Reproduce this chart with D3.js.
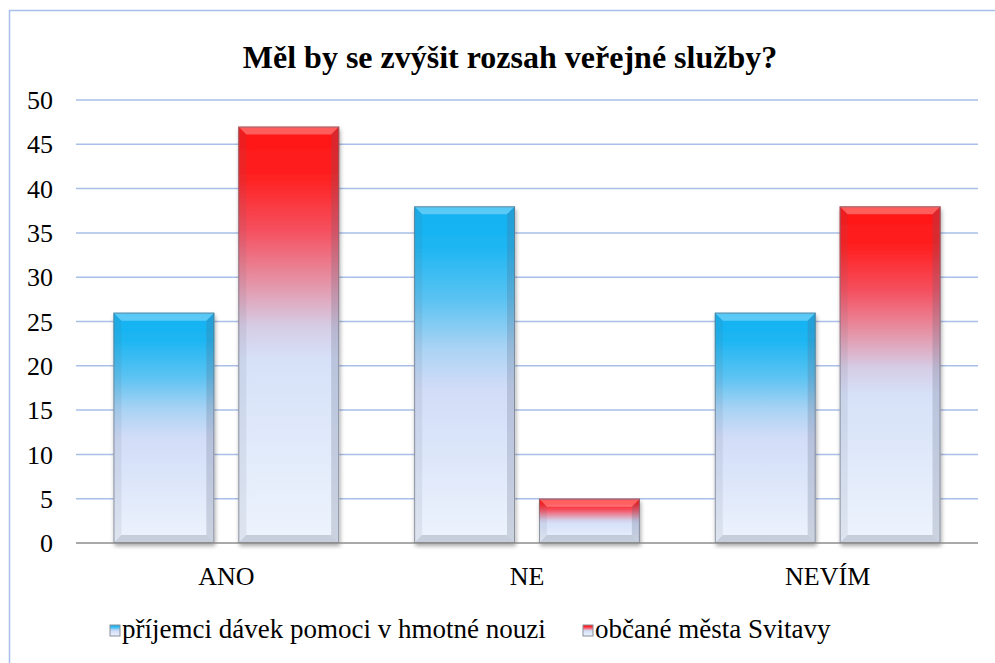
<!DOCTYPE html>
<html>
<head>
<meta charset="utf-8">
<script src="https://cdn.jsdelivr.net/npm/d3@7"></script>
</head>
<body style="margin:0; background:#fff">
<svg id="chart" width="995" height="663"></svg>
<script>
var categories = ["ANO", "NE", "NEVÍM"];
var seriesNames = ["příjemci dávek pomoci v hmotné nouzi", "občané města Svitavy"];
var prijemci = [26, 38, 26];
var obcane = [47, 5, 38];
var yTicks = [0, 5, 10, 15, 20, 25, 30, 35, 40, 45, 50];
var titleText = "Měl by se zvýšit rozsah veřejné služby?";

var FONT = "'Liberation Serif'";
var svg = d3.select("#chart");
var margin = {top: 100, left: 76, right: 17, bottom: 120};
var width = 995 - margin.left - margin.right;
var height = 543 - margin.top;
var gradStops = [
    [["0", "#10b2f2"], ["0.12", "#1db6f2"], ["0.28", "#5cc3f2"], ["0.42", "#a9d3f4"], ["0.54", "#d1dcf7"], ["1", "#edf4fd"]],
    [["0", "#ff1414"], ["0.12", "#ff2020"], ["0.25", "#f5505f"], ["0.38", "#e596aa"], ["0.48", "#d5cde6"], ["0.56", "#d6e1f8"], ["1", "#edf4fd"]]
];

// gradients
var defs = svg.append("defs");
gradStops.forEach(function(st, i) {
    var gr = defs.append("linearGradient").attr("id", "grad" + i)
        .attr("x1", 0).attr("y1", 0).attr("x2", 0).attr("y2", 1);
    st.forEach(function(s) {
        gr.append("stop").attr("offset", s[0]).attr("stop-color", s[1]);
    });
});
var sh = defs.append("filter").attr("id", "shadow")
    .attr("x", "-10%").attr("y", "-10%").attr("width", "130%").attr("height", "130%");
sh.append("feDropShadow").attr("dx", 1).attr("dy", 3).attr("stdDeviation", 2)
    .attr("flood-color", "#000").attr("flood-opacity", 0.35);

// outer frame
svg.append("path")
    .attr("d", "M9.5,663 L9.5,10.5 L995,10.5")
    .attr("fill", "none").attr("stroke", "#a8c0ea").attr("stroke-width", 1.5);

var g = svg.append("g").attr("transform", "translate(" + margin.left + "," + margin.top + ")");

var y = d3.scaleLinear().domain([0, 50]).range([height, 0]);
var x0 = d3.scaleBand().domain(categories).range([0, width]);
var x1 = d3.scaleBand().domain([0, 1]).range([0, x0.bandwidth()])
    .paddingInner(0.192).paddingOuter(0.3);

// grid
g.selectAll(".grid").data(yTicks.filter(function(d) { return d > 0; }))
    .enter().append("line")
    .attr("x1", 0).attr("x2", width)
    .attr("y1", function(d) { return y(d); }).attr("y2", function(d) { return y(d); })
    .attr("stroke", "#a9bfe8").attr("stroke-width", 1.5);

// y labels
g.selectAll(".ytick").data(yTicks).enter().append("text")
    .attr("x", -23).attr("y", function(d) { return y(d); })
    .attr("dy", "0.35em").attr("text-anchor", "end")
    .attr("font-size", 26).style("font-family", FONT).text(function(d) { return d; });

// bars
var data = [prijemci, obcane];
var groups = g.selectAll(".cat").data(categories).enter().append("g")
    .attr("transform", function(d) { return "translate(" + x0(d) + ",0)"; });

groups.each(function(cat, ci) {
    var sel = d3.select(this);
    [0, 1].forEach(function(si) {
        var v = data[si][ci];
        var bx = x1(si), bw = x1.bandwidth(), by = y(v), bh = height - y(v);
        var b = sel.append("g");
        b.append("rect").attr("x", bx).attr("y", by).attr("width", bw).attr("height", bh)
            .attr("fill", "url(#grad" + si + ")").attr("filter", "url(#shadow)");
        var e = Math.min(8, bh / 3);
        // bevel: top light, bottom dark, sides
        b.append("path")
            .attr("d", "M" + bx + "," + by + "h" + bw + "l" + (-e) + "," + e + "h" + (-(bw - 2 * e)) + "z")
            .attr("fill", "#fff").attr("opacity", 0.3);
        b.append("path")
            .attr("d", "M" + bx + "," + (by + bh) + "h" + bw + "l" + (-e) + "," + (-e) + "h" + (-(bw - 2 * e)) + "z")
            .attr("fill", "#6d7a90").attr("opacity", 0.3);
        b.append("path")
            .attr("d", "M" + (bx + bw) + "," + by + "v" + bh + "l" + (-e) + "," + (-e) + "v" + (-(bh - 2 * e)) + "z")
            .attr("fill", "#55607a").attr("opacity", 0.22);
        b.append("path")
            .attr("d", "M" + bx + "," + by + "v" + bh + "l" + e + "," + (-e) + "v" + (-(bh - 2 * e)) + "z")
            .attr("fill", "#55607a").attr("opacity", 0.1);
        b.append("rect").attr("x", bx + 0.5).attr("y", by + 0.5).attr("width", bw - 1).attr("height", bh - 1)
            .attr("fill", "none").attr("stroke", "#6f7480").attr("stroke-width", 1).attr("opacity", 0.7);
    });
});

// x axis line
g.append("line").attr("x1", 0).attr("x2", width).attr("y1", height).attr("y2", height)
    .attr("stroke", "#8c8c8c").attr("stroke-width", 1.5);

g.selectAll(".xlab").data(categories).enter().append("text")
    .attr("x", function(d) { return x0(d) + x0.bandwidth() / 2; })
    .attr("y", height + 42).attr("text-anchor", "middle")
    .attr("font-size", 26).style("font-family", FONT).text(function(d) { return d; });

// title
svg.append("text").attr("x", 510).attr("y", 68).attr("text-anchor", "middle")
    .attr("font-size", 32).attr("font-weight", "bold").style("font-family", FONT).text(titleText);

// legend
var legX = [110, 583];
seriesNames.forEach(function(name, i) {
    var lg = svg.append("g").attr("transform", "translate(" + legX[i] + ",625)");
    lg.append("rect").attr("x", 0).attr("y", 0).attr("width", 10).attr("height", 11)
        .attr("fill", "url(#grad" + i + ")").attr("stroke", "#8a8f9a").attr("stroke-width", 1);
    lg.append("text").attr("x", 12).attr("y", 13).attr("font-size", 27)
        .style("font-family", FONT).text(name);
});
</script>
</body>
</html>
